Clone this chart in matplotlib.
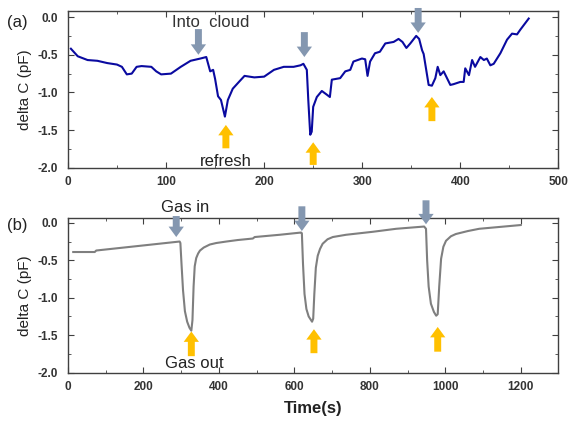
import numpy as np
import matplotlib.pyplot as plt
from matplotlib.ticker import MultipleLocator

plt.rcParams['font.family'] = ['Liberation Sans', 'DejaVu Sans']

# (a) cloud test
t_a = [3, 10, 20, 30, 40, 50, 55, 60, 65, 70, 75, 85, 90, 95, 105, 115, 125, 135, 141,
       145, 148, 150, 153, 156, 160, 163, 168, 175, 180, 190, 200, 210, 220, 230, 237,
       240, 243.5, 245, 247, 248.5, 250, 253.7, 258.8, 264, 267, 269, 277.5, 282.7, 287.8,
       291, 299.7, 303, 305.4, 308, 313, 318, 323.5, 332, 337, 341, 345, 349, 355, 358,
       361, 362.6, 367.7, 371, 374.5, 376.9, 379.6, 383, 386.4, 389.8, 393, 400, 403.4,
       405, 408.8, 412, 415, 420.4, 424, 427, 430.6, 434, 440.8, 447.6, 452.7, 457.8,
       461, 469.7]
c_a = [-0.42, -0.52, -0.57, -0.58, -0.61, -0.63, -0.66, -0.76, -0.75, -0.66, -0.65, -0.66,
       -0.72, -0.76, -0.75, -0.66, -0.58, -0.55, -0.53,
       -0.72, -0.70, -0.82, -1.05, -1.10, -1.32, -1.10, -0.95, -0.85, -0.78, -0.80, -0.79,
       -0.70, -0.66, -0.66, -0.64,
       -0.62, -0.70, -1.10, -1.56, -1.52, -1.19, -1.06, -0.98, -1.03, -1.06, -0.83, -0.81,
       -0.72, -0.70,
       -0.59, -0.55, -0.56, -0.78, -0.59, -0.48, -0.46, -0.35, -0.33, -0.29, -0.33, -0.41,
       -0.35, -0.25, -0.29,
       -0.44, -0.49, -0.90, -0.91, -0.81, -0.66, -0.77, -0.72, -0.81, -0.90, -0.89, -0.86,
       -0.86,
       -0.68, -0.77, -0.57, -0.66, -0.53, -0.57, -0.55, -0.64, -0.62, -0.48, -0.30, -0.22,
       -0.23, -0.17, -0.02]

# (b) gas test
t_b = [14, 71, 75, 296, 298, 301, 305, 310, 316, 322, 327, 330, 333, 336, 340, 345, 350,
       360, 376, 393, 420, 450, 490, 495,
       561, 618, 620, 623, 627, 632, 638, 647, 650, 653, 657, 662, 668, 675, 688, 702, 737,
       808, 870, 944,
       949, 952, 956, 962, 970, 976, 980, 984, 989, 995, 1002, 1015, 1028, 1060, 1090, 1200]
c_b = [-0.39, -0.39, -0.37, -0.25, -0.27, -0.55, -0.90, -1.18, -1.32, -1.40, -1.44, -1.30,
       -0.85, -0.58, -0.47, -0.41, -0.37,
       -0.33, -0.29, -0.27, -0.25, -0.23, -0.21, -0.19,
       -0.16, -0.13, -0.14, -0.55, -0.95, -1.15, -1.25, -1.32, -1.28, -0.95, -0.60, -0.44,
       -0.35, -0.28, -0.22, -0.19, -0.16,
       -0.12, -0.08, -0.05,
       -0.08, -0.50, -0.85, -1.08, -1.19, -1.24, -1.22, -0.85, -0.48, -0.32, -0.24, -0.18,
       -0.15, -0.11, -0.08, -0.03]

# arrows: (x, base, tip)
down_a = [(133, -0.16, -0.50), (241, -0.20, -0.53), (357, 0.12, -0.21)]
up_a = [(161, -1.74, -1.43), (250, -1.96, -1.66), (371, -1.38, -1.06)]
down_b = [(287, 0.09, -0.19), (620, 0.22, -0.11), (949, 0.30, -0.02)]
up_b = [(327, -1.78, -1.45), (652, -1.74, -1.42), (980, -1.72, -1.39)]

gray_arrow = '#8497B0'
orange_arrow = '#FFC000'
spine_col = '#404040'


def add_arrows(ax, arrows, color):
    for x, y0, y1 in arrows:
        ax.annotate('', xy=(x, y1), xytext=(x, y0), annotation_clip=False,
                    arrowprops=dict(arrowstyle='simple,head_width=1.1,head_length=0.75,tail_width=0.5',
                                    mutation_scale=10, color=color, lw=0,
                                    shrinkA=0, shrinkB=0))


def style_axes(ax):
    for s in ax.spines.values():
        s.set_color(spine_col)
        s.set_linewidth(1.0)
    ax.tick_params(which='both', direction='in', top=True, right=True, color=spine_col,
                   labelsize=8.5)
    ax.tick_params(axis='y', pad=7)
    ax.tick_params(axis='x', pad=6)
    ax.tick_params(which='major', length=4)
    ax.tick_params(which='minor', length=2.5)
    ax.yaxis.set_minor_locator(MultipleLocator(0.25))
    ax.set_yticks([0.0, -0.5, -1.0, -1.5, -2.0])
    ax.set_yticklabels(['0.0', '-0.5', '-1.0', '-1.5', '-2.0'])
    for lab in ax.get_xticklabels() + ax.get_yticklabels():
        lab.set_fontweight('bold')
        lab.set_color('#333333')
    ax.set_ylabel('delta C (pF)', fontsize=11, color='#222222', labelpad=4)


fig = plt.figure(figsize=(5.71, 4.23), dpi=100)
ax1 = fig.add_axes([0.119, 0.603, 0.859, 0.371])
ax2 = fig.add_axes([0.119, 0.119, 0.859, 0.366])

ax1.plot(t_a, c_a, color='#0A0AA0', lw=1.5)
ax1.set_xlim(0, 500)
ax1.set_ylim(-2.0, 0.08)
ax1.xaxis.set_major_locator(MultipleLocator(100))
ax1.xaxis.set_minor_locator(MultipleLocator(50))
style_axes(ax1)
add_arrows(ax1, down_a, gray_arrow)
add_arrows(ax1, up_a, orange_arrow)
ax1.text(145, -0.07, 'Into  cloud', ha='center', va='center', fontsize=12, color='#333333')
ax1.text(161, -1.92, 'refresh', ha='center', va='center', fontsize=12, color='#222222')
fig.text(0.030, 0.946, '(a)', ha='center', va='center', fontsize=12, color='#222222')

ax2.plot(t_b, c_b, color='#7F7F7F', lw=1.5)
ax2.set_xlim(0, 1300)
ax2.set_ylim(-2.0, 0.066)
ax2.xaxis.set_major_locator(MultipleLocator(200))
ax2.xaxis.set_minor_locator(MultipleLocator(100))
style_axes(ax2)
add_arrows(ax2, down_b, gray_arrow)
add_arrows(ax2, up_b, orange_arrow)
ax2.text(310, 0.20, 'Gas in', ha='center', va='center', fontsize=12, color='#222222')
ax2.text(335, -1.88, 'Gas out', ha='center', va='center', fontsize=12, color='#222222')
fig.text(0.030, 0.468, '(b)', ha='center', va='center', fontsize=12, color='#222222')
ax2.set_xlabel('Time(s)', fontsize=12, fontweight='bold', color='#222222', labelpad=6)

fig.savefig('out.png', dpi=100)
